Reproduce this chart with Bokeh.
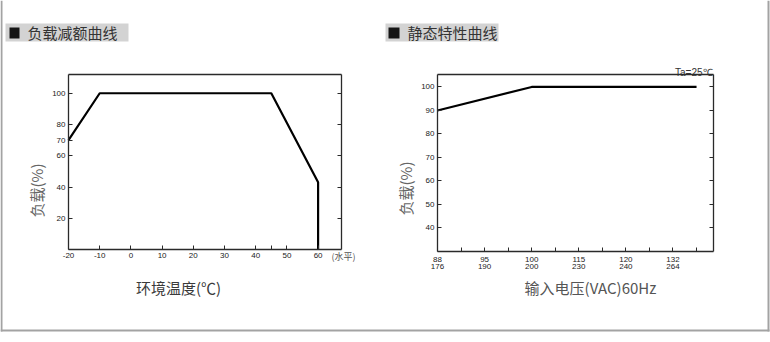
import math
from bokeh.plotting import figure
from bokeh.models import Label, FixedTicker, LinearAxis, Range1d
from bokeh.embed import file_html
from bokeh.resources import INLINE

# ---- derating curve: load vs ambient temperature ----
temp_c = [-20, -10, 45, 60, 60]
derate_load = [70, 100, 100, 43, 0]
temp_ticks = [-20, -10, 0, 10, 20, 30, 40, 45, 50, 60]
temp_labels = ["-20", "-10", "0", "10", "20", "30", "40", "", "50", "60"]
derate_left_ticks = [20, 40, 60, 70, 80, 100]
derate_right_ticks = [20, 40, 60, 80, 100]

# ---- static characteristic: load vs input voltage ----
vin_low = ["88", "95", "100", "115", "120", "132"]
vin_high = ["176", "190", "200", "230", "240", "264"]
vin_ticks = [0, 0.5, 1, 1.5, 2, 2.5, 3, 3.5, 4, 4.5, 5, 5.5]
static_pos = [0, 2, 5.5]          # position on the voltage tick scale
static_load = [90, 100, 100]
static_ticks = [40, 50, 60, 70, 80, 90, 100]

CJK = "Noto Sans CJK SC"
NUM = "Liberation Sans"
W, H = 770, 342
BORDER = "#a3a3a3"
AXIS = "#2a2a2a"

# The canvas is addressed in pixels (y downwards); each chart gets its own
# data ranges, stretched over the whole canvas so its plot box lands where
# it should.
p = figure(width=W, height=H, x_range=Range1d(0, W), y_range=Range1d(H, 0),
           x_axis_type=None, y_axis_type=None,
           output_backend="svg", toolbar_location=None,
           min_border=0, min_border_left=0, min_border_right=0,
           min_border_top=0, min_border_bottom=0)
p.grid.visible = False
p.outline_line_color = None
p.background_fill_color = "white"
p.border_fill_color = "white"


def canvas_x_range(px0, px1, v0, v1):
    k = (v1 - v0) / (px1 - px0)
    return Range1d(start=v0 - px0 * k, end=v0 + (W - px0) * k)


def canvas_y_range(py_top, py_bottom, v_top, v_bottom):
    k = (v_top - v_bottom) / (py_bottom - py_top)
    return Range1d(start=v_bottom - (H - py_bottom) * k, end=v_top + py_top * k)


def style_axis(ax, size="8px"):
    ax.axis_line_color = AXIS
    ax.axis_line_width = 1.3
    ax.major_tick_in = 4
    ax.major_tick_out = 0
    ax.major_tick_line_color = AXIS
    ax.major_tick_line_width = 1
    ax.minor_tick_line_color = None
    ax.major_label_text_font = NUM
    ax.major_label_text_font_size = size
    ax.major_label_text_color = "#222222"
    ax.major_label_standoff = 3
    return ax


def add_frame(xname, yname, x0, x1, y0, y1, xticks, xoverrides,
              yticks_left, yticks_right):
    bottom = style_axis(LinearAxis(x_range_name=xname, y_range_name=yname,
                                   fixed_location=y0, bounds=(x0, x1),
                                   ticker=FixedTicker(ticks=xticks),
                                   major_label_overrides=xoverrides))
    p.add_layout(bottom, "below")
    top = style_axis(LinearAxis(x_range_name=xname, y_range_name=yname,
                                fixed_location=y1, bounds=(x0, x1),
                                ticker=FixedTicker(ticks=[])))
    p.add_layout(top, "above")
    left = style_axis(LinearAxis(x_range_name=xname, y_range_name=yname,
                                 fixed_location=x0, bounds=(y0, y1),
                                 ticker=FixedTicker(ticks=yticks_left)))
    p.add_layout(left, "left")
    right = style_axis(LinearAxis(x_range_name=xname, y_range_name=yname,
                                  fixed_location=x1, bounds=(y0, y1),
                                  ticker=FixedTicker(ticks=yticks_right),
                                  major_label_overrides={t: "" for t in yticks_right}))
    p.add_layout(right, "right")
    return bottom


def add_text(x, y, text, size, color="#333333", font=CJK,
             align="left", baseline="middle", angle=0.0):
    p.add_layout(Label(x=x, y=y, text=text, text_font=font,
                       text_font_size=size, text_color=color,
                       text_align=align, text_baseline=baseline, angle=angle))


def add_rect(x0, y0, x1, y1, color):
    p.quad(left=x0, right=x1, top=y0, bottom=y1,
           fill_color=color, line_color=None)


# ---- outer panel border ----
add_rect(0, 0, 2, 331, BORDER)
add_rect(0, 329, 769, 331, BORDER)
add_rect(767, 0, 769, 331, BORDER)

# ================= left: 负载减额曲线 =================
T_MIN, T_MAX, L1_MIN, L1_MAX = -20, 67.5, 0, 112
p.extra_x_ranges["temp"] = canvas_x_range(68, 341, T_MIN, T_MAX)
p.extra_y_ranges["load1"] = canvas_y_range(74, 249, L1_MAX, L1_MIN)

add_frame("temp", "load1", T_MIN, T_MAX, L1_MIN, L1_MAX,
          temp_ticks, dict(zip(temp_ticks, temp_labels)),
          derate_left_ticks, derate_right_ticks)
p.line(temp_c, derate_load, x_range_name="temp", y_range_name="load1",
       line_color="black", line_width=2.2)

add_rect(5, 23, 128, 41, "#d3d3d3")
add_rect(9, 27, 19, 38, "#161616")
add_text(27, 32, "负载减额曲线", "15px", "#333333")
add_text(36, 190, "负载(%)", "15px", "#666666", align="center", angle=math.pi / 2)
add_text(178, 287, "环境温度(℃)", "15px", "#3a3a3a", align="center")
add_text(331, 256, "(水平)", "9px", "#555555")

# ================= right: 静态特性曲线 =================
V_MIN, V_MAX, L2_MIN, L2_MAX = 0, 5.86, 30, 105.3
p.extra_x_ranges["vin"] = canvas_x_range(437, 713, V_MIN, V_MAX)
p.extra_y_ranges["load2"] = canvas_y_range(74, 251, L2_MAX, L2_MIN)

vin_overrides = {t: "" for t in vin_ticks}
for i, (lo, hi) in enumerate(zip(vin_low, vin_high)):
    vin_overrides[i] = lo + "\n" + hi
vin_axis = add_frame("vin", "load2", V_MIN, V_MAX, L2_MIN, L2_MAX,
                     vin_ticks, vin_overrides, static_ticks, static_ticks)
vin_axis.major_label_text_line_height = 0.85
p.line(static_pos, static_load, x_range_name="vin", y_range_name="load2",
       line_color="black", line_width=2.2)

add_rect(385, 23, 498, 41, "#d3d3d3")
add_rect(388, 27, 399, 38, "#161616")
add_text(407, 32, "静态特性曲线", "15px", "#333333")
add_text(405, 188, "负载(%)", "15px", "#666666", align="center", angle=math.pi / 2)
add_text(590, 287, "输入电压(VAC)60Hz", "15px", "#555555", align="center")
add_text(712, 72, "Ta=25℃", "10px", "#333333", font=NUM,
         align="right", baseline="alphabetic")

open("out.html", "w").write(file_html(p, INLINE))
